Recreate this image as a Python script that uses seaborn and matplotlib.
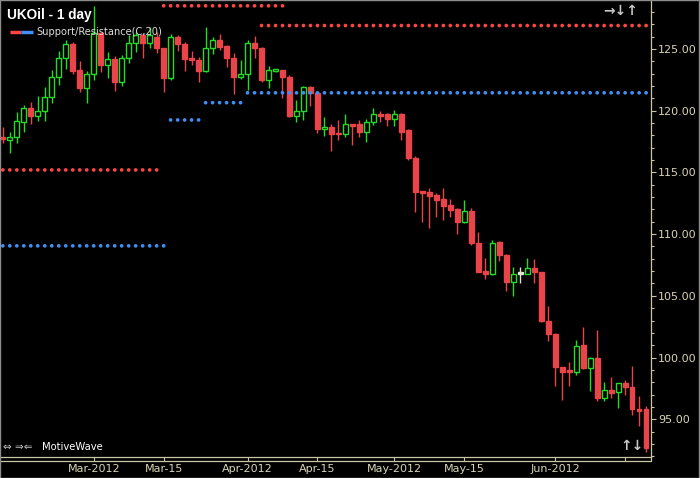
import pandas as pd
import numpy as np
import seaborn as sns
import matplotlib.pyplot as plt
from matplotlib.patches import Rectangle
from matplotlib.ticker import MultipleLocator, FormatStrFormatter

# daily UKOil bars, Feb 13 - Jun 20 2012
dates = pd.bdate_range('2012-02-13', periods=93)
opens = [117.9, 117.6, 117.9, 119.1, 120.2, 119.6, 120.0, 121.1, 122.7, 124.25,
         125.4, 123.3, 121.8, 123.0, 126.3, 123.7, 124.2, 122.35, 124.3, 125.45,
         126.1, 125.45, 126.0, 125.05, 122.65, 126.0, 125.4, 124.2, 124.1, 123.2,
         125.05, 125.7, 125.25, 124.3, 122.7, 123.0, 125.45, 125.05, 122.45, 123.25,
         123.3, 122.7, 119.6, 120.0, 121.95, 121.4, 118.5, 118.65, 118.2, 118.1,
         118.95, 118.95, 118.3, 119.05, 119.75, 119.7, 119.3, 119.7, 118.4, 116.2,
         113.5, 113.4, 113.15, 112.85, 112.35, 112.05, 110.95, 111.85, 109.3, 107.0,
         106.8, 109.35, 108.3, 106.15, 106.8, 106.8, 107.25, 106.9, 103.0, 101.9,
         99.2, 98.95, 98.8, 101.0, 99.15, 99.95, 96.75, 97.35, 97.2, 97.9,
         97.65, 95.85, 95.8]
highs = [118.7, 118.3, 119.9, 120.45, 120.7, 121.2, 121.9, 123.3, 124.8, 125.7,
         125.6, 124.0, 123.25, 128.5, 126.4, 124.75, 124.45, 124.5, 126.1, 126.4,
         126.3, 126.8, 126.35, 125.1, 126.2, 126.15, 125.55, 124.85, 124.35, 126.75,
         125.95, 126.2, 125.3, 124.65, 124.1, 125.75, 126.05, 125.15, 123.6, 123.4,
         123.3, 122.9, 120.85, 122.0, 122.0, 121.5, 119.45, 118.9, 119.25, 119.75,
         118.95, 119.25, 119.3, 120.25, 120.0, 119.85, 120.05, 119.85, 118.5, 116.35,
         113.5, 113.7, 113.3, 113.75, 112.85, 112.15, 112.75, 112.15, 110.2, 108.05,
         109.5, 109.45, 108.4, 107.3, 107.3, 108.05, 108.0, 106.95, 104.15, 102.0,
         99.25, 99.6, 101.4, 102.5, 100.05, 102.25, 98.0, 98.4, 97.9, 98.2,
         99.35, 96.9, 96.05]
lows = [117.4, 116.55, 117.4, 118.3, 118.9, 119.2, 119.2, 120.6, 122.1, 123.35,
        122.95, 121.55, 120.6, 122.5, 123.15, 122.65, 121.6, 122.0, 123.85, 124.75,
        124.25, 125.05, 124.65, 121.55, 122.45, 124.85, 123.2, 123.7, 122.35, 123.1,
        124.6, 124.95, 123.55, 121.35, 122.55, 121.7, 124.3, 122.35, 121.85, 123.15,
        121.05, 119.5, 119.1, 119.25, 120.4, 118.2, 117.95, 116.7, 117.6, 117.9,
        117.2, 117.9, 117.5, 118.85, 119.1, 118.75, 118.75, 117.6, 116.0, 111.8,
        111.0, 110.5, 111.35, 111.15, 111.4, 110.0, 110.9, 109.1, 106.9, 106.35,
        106.7, 107.85, 105.4, 105.0, 106.05, 106.8, 106.05, 102.9, 101.3, 97.7,
        96.55, 97.7, 98.6, 99.1, 97.25, 96.5, 96.5, 96.75, 95.95, 96.95,
        95.35, 94.45, 92.35]
closes = [117.7, 117.9, 119.2, 120.2, 119.6, 120.0, 121.1, 122.7, 124.25, 125.4,
          123.25, 121.8, 123.0, 126.3, 123.7, 124.2, 122.35, 124.3, 125.45, 126.1,
          125.45, 126.1, 125.05, 122.65, 126.0, 125.4, 124.15, 124.1, 123.2, 125.05,
          125.7, 125.2, 124.3, 122.7, 123.0, 125.45, 125.05, 122.45, 123.3, 123.3,
          122.7, 119.6, 120.0, 121.9, 121.4, 118.5, 118.65, 118.15, 118.1, 118.9,
          118.8, 118.3, 119.1, 119.7, 119.6, 119.3, 119.7, 118.3, 116.2, 113.45,
          113.35, 113.1, 112.8, 112.3, 111.95, 110.95, 111.85, 109.3, 106.95, 106.8,
          109.3, 108.3, 106.15, 106.8, 106.8, 107.25, 106.9, 103.0, 101.9, 99.2,
          98.85, 98.8, 100.95, 99.15, 99.95, 96.75, 97.35, 97.15, 97.9, 97.65,
          95.8, 95.7, 92.65]

# Support/Resistance(C,20) levels: level, first bar, last bar
res_levels = [115.2, 128.5, 126.9]
res_first = [0, 23, 37]
res_last = [22, 40, 92]
sup_levels = [109.05, 119.25, 120.65, 121.45]
sup_first = [0, 24, 29, 35]
sup_last = [23, 28, 34, 92]

tick_dates = ['2012-03-01', '2012-03-15', '2012-04-02', '2012-04-16', '2012-05-01',
              '2012-05-15', '2012-06-01', '2012-06-15']
tick_labels = ['Mar-2012', 'Mar-15', 'Apr-2012', 'Apr-15', 'May-2012', 'May-15', 'Jun-2012', '']

RED = '#e8444a'
GREEN = '#22dd22'
DOJI = '#e0e0d0'
RES_C = '#ff4545'
SUP_C = '#3f8ff5'
AXC = '#c8c4a8'
TXT = '#d8d4b4'

df = pd.DataFrame({'date': dates, 'open': opens, 'high': highs, 'low': lows, 'close': closes})
df['i'] = np.arange(len(df))

rows = []
for lv, a, b in zip(res_levels, res_first, res_last):
    for k in range(a, b + 1):
        rows.append({'i': k, 'level': lv, 'kind': 'res'})
for lv, a, b in zip(sup_levels, sup_first, sup_last):
    for k in range(a, b + 1):
        rows.append({'i': k, 'level': lv, 'kind': 'sup'})
sr = pd.DataFrame(rows)

sns.set_theme(style='dark')
plt.rcParams['font.family'] = ['DejaVu Sans']

fig = plt.figure(figsize=(7, 4.78), dpi=100, facecolor='black')
ax = fig.add_axes([0, 1 - 457 / 478, 651 / 700, 457 / 478])
ax.set_facecolor('black')

# candles
for _, r in df.iterrows():
    if r.close > r.open:
        col, face = GREEN, 'black'
    elif r.close < r.open:
        col, face = RED, RED
    else:
        col, face = DOJI, DOJI
    ax.vlines(r.i, r.low, r.high, color=col, lw=1, zorder=2)
    lo = min(r.open, r.close)
    h = max(abs(r.close - r.open), 0.13)
    ax.bar(r.i, h, bottom=lo, width=0.68, color=face, edgecolor=col, linewidth=1, zorder=3)

sns.scatterplot(data=sr, x='i', y='level', hue='kind', palette={'res': RES_C, 'sup': SUP_C},
                s=7, linewidth=0, legend=False, ax=ax, zorder=4)

ax.set_xlim(-0.4, 92.7)
ax.set_ylim(91.94, 128.97)
ax.set_xlabel('')
ax.set_ylabel('')
ax.grid(False)

ax.yaxis.tick_right()
ax.yaxis.set_major_locator(MultipleLocator(5))
ax.yaxis.set_minor_locator(MultipleLocator(1))
ax.yaxis.set_major_formatter(FormatStrFormatter('%.2f'))
ax.tick_params(axis='y', which='major', length=3.6, width=0.8, color=AXC, labelcolor=TXT,
               labelsize=8, pad=1.5, right=True, left=False)
ax.tick_params(axis='y', which='minor', length=2.2, width=0.8, color=AXC, right=True, left=False)

pos = [int(np.searchsorted(df['date'].values, np.datetime64(d))) for d in tick_dates]
ax.set_xticks(pos)
ax.set_xticklabels(tick_labels)
ax.tick_params(axis='x', which='major', length=2.9, width=0.8, color=AXC, labelcolor=TXT,
               labelsize=8, pad=2.5, bottom=True, direction='out')

for s in ['top', 'left']:
    ax.spines[s].set_visible(False)
for s in ['right', 'bottom']:
    ax.spines[s].set_color(AXC)
    ax.spines[s].set_linewidth(0.9)
d = 4 / 457
ax.plot([0, 1], [-d, -d], transform=ax.transAxes, clip_on=False, color=AXC, lw=0.9)
ax.plot([1, 1], [-d, 0], transform=ax.transAxes, clip_on=False, color=AXC, lw=0.9)

# title and legend
ax.text(7 / 651, 1 - 15 / 457, 'UKOil - 1 day', transform=ax.transAxes, color='white',
        fontsize=9.8, fontweight='bold', family='Liberation Sans', va='center', ha='left')
ax.plot([10 / 651, 21 / 651], [1 - 32 / 457] * 2, transform=ax.transAxes, color=RES_C, lw=2.5,
        solid_capstyle='butt')
ax.plot([21 / 651, 33 / 651], [1 - 32 / 457] * 2, transform=ax.transAxes, color=SUP_C, lw=2.5,
        solid_capstyle='butt')
ax.text(36 / 651, 1 - 32 / 457, 'Support/Resistance(C,20)', transform=ax.transAxes,
        color='#dcdcdc', fontsize=7.1, va='center', ha='left')

# window decorations
ax.text(603 / 651, 1 - 11 / 457, '→↓↑', transform=ax.transAxes, color='#c8c8c8',
        fontsize=10, fontweight='bold', va='center', ha='left')
ax.text(620 / 651, 1 - 446 / 457, '↑↓', transform=ax.transAxes, color='#c8c8c8',
        fontsize=10, fontweight='bold', va='center', ha='left')
ax.text(3 / 651, 1 - 447 / 457, '⇔ ⇒⇐', transform=ax.transAxes, color='#c8c8c8',
        fontsize=7.5, va='center', ha='left')
ax.text(42 / 651, 1 - 447 / 457, 'MotiveWave', transform=ax.transAxes, color='white',
        fontsize=7.2, va='center', ha='left')

fig.patches.append(Rectangle((0.0007, 0.001), 0.998, 0.998, transform=fig.transFigure,
                             fill=False, edgecolor='#8c8c8c', lw=1))

fig.savefig('out.png', dpi=100, facecolor='black')
